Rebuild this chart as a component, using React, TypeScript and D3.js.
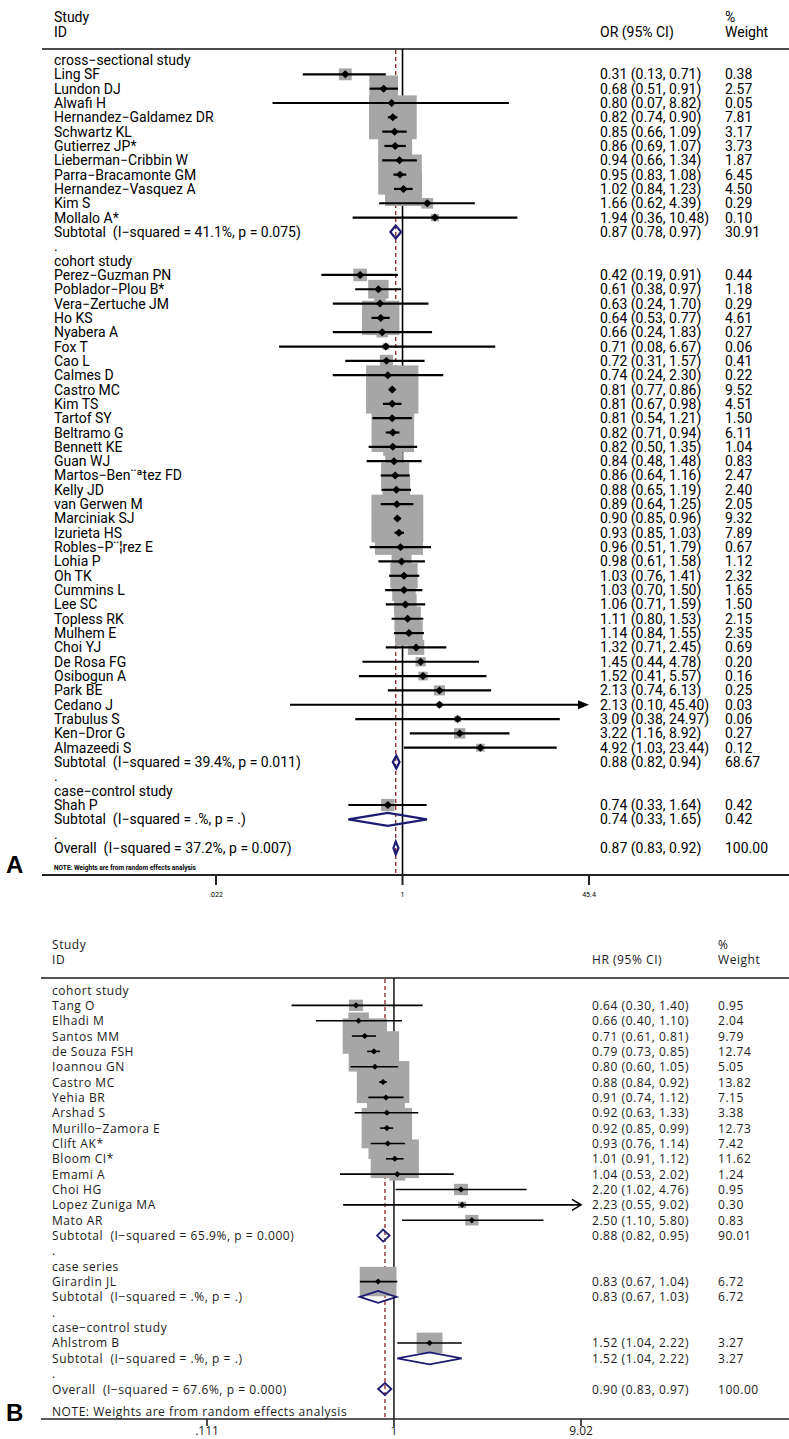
import React from "react";
import * as d3 from "d3";

// ---------------- Panel A data (OR) ----------------
const groupsA = ["cross−sectional study", "cohort study", "case−control study"];
const groupSizesA = [11, 34, 1];
const studiesA = [
  "Ling SF", "Lundon DJ", "Alwafi H", "Hernandez−Galdamez DR", "Schwartz KL", "Gutierrez JP*",
  "Lieberman−Cribbin W", "Parra−Bracamonte GM", "Hernandez−Vasquez A", "Kim S", "Mollalo A*",
  "Perez−Guzman PN", "Poblador−Plou B*", "Vera−Zertuche JM", "Ho KS", "Nyabera A", "Fox T", "Cao L",
  "Calmes D", "Castro MC", "Kim TS", "Tartof SY", "Beltramo G", "Bennett KE", "Guan WJ",
  "Martos−Ben¨ªtez FD", "Kelly JD", "van Gerwen M", "Marciniak SJ", "Izurieta HS", "Robles−P¨¦rez E",
  "Lohia P", "Oh TK", "Cummins L", "Lee SC", "Topless RK", "Mulhem E", "Choi YJ", "De Rosa FG",
  "Osibogun A", "Park BE", "Cedano J", "Trabulus S", "Ken−Dror G", "Almazeedi S",
  "Shah P",
];
const estA = [
  0.31, 0.68, 0.80, 0.82, 0.85, 0.86, 0.94, 0.95, 1.02, 1.66, 1.94,
  0.42, 0.61, 0.63, 0.64, 0.66, 0.71, 0.72, 0.74, 0.81, 0.81, 0.81, 0.82, 0.82, 0.84, 0.86, 0.88,
  0.89, 0.90, 0.93, 0.96, 0.98, 1.03, 1.03, 1.06, 1.11, 1.14, 1.32, 1.45, 1.52, 2.13, 2.13, 3.09,
  3.22, 4.92,
  0.74,
];
const lowA = [
  0.13, 0.51, 0.07, 0.74, 0.66, 0.69, 0.66, 0.83, 0.84, 0.62, 0.36,
  0.19, 0.38, 0.24, 0.53, 0.24, 0.08, 0.31, 0.24, 0.77, 0.67, 0.54, 0.71, 0.50, 0.48, 0.64, 0.65,
  0.64, 0.85, 0.85, 0.51, 0.61, 0.76, 0.70, 0.71, 0.80, 0.84, 0.71, 0.44, 0.41, 0.74, 0.10, 0.38,
  1.16, 1.03,
  0.33,
];
const highA = [
  0.71, 0.91, 8.82, 0.90, 1.09, 1.07, 1.34, 1.08, 1.23, 4.39, 10.48,
  0.91, 0.97, 1.70, 0.77, 1.83, 6.67, 1.57, 2.30, 0.86, 0.98, 1.21, 0.94, 1.35, 1.48, 1.16, 1.19,
  1.25, 0.96, 1.03, 1.79, 1.58, 1.41, 1.50, 1.59, 1.53, 1.55, 2.45, 4.78, 5.57, 6.13, 45.40, 24.97,
  8.92, 23.44,
  1.64,
];
const weightA = [
  0.38, 2.57, 0.05, 7.81, 3.17, 3.73, 1.87, 6.45, 4.50, 0.29, 0.10,
  0.44, 1.18, 0.29, 4.61, 0.27, 0.06, 0.41, 0.22, 9.52, 4.51, 1.50, 6.11, 1.04, 0.83, 2.47, 2.40,
  2.05, 9.32, 7.89, 0.67, 1.12, 2.32, 1.65, 1.50, 2.15, 2.35, 0.69, 0.20, 0.16, 0.25, 0.03, 0.06,
  0.27, 0.12,
  0.42,
];
const subLabelsA = [
  "Subtotal  (I−squared = 41.1%, p = 0.075)",
  "Subtotal  (I−squared = 39.4%, p = 0.011)",
  "Subtotal  (I−squared = .%, p = .)",
];
const subEstA = [0.87, 0.88, 0.74];
const subLowA = [0.78, 0.82, 0.33];
const subHighA = [0.97, 0.94, 1.65];
const subWeightA = [30.91, 68.67, 0.42];
const overallLabelA = "Overall  (I−squared = 37.2%, p = 0.007)";
const overallEstA = [0.87, 0.83, 0.92];
const overallWeightA = 100.0;
const ticksA = [0.022, 1, 45.4];
const tickLabelsA = [".022", "1", "45.4"];

// ---------------- Panel B data (HR) ----------------
const groupsB = ["cohort study", "case series", "case−control study"];
const groupSizesB = [15, 1, 1];
const studiesB = [
  "Tang O", "Elhadi M", "Santos MM", "de Souza FSH", "Ioannou GN", "Castro MC", "Yehia BR",
  "Arshad S", "Murillo−Zamora E", "Clift AK*", "Bloom CI*", "Emami A", "Choi HG",
  "Lopez Zuniga MA", "Mato AR",
  "Girardin JL",
  "Ahlstrom B",
];
const estB = [0.64, 0.66, 0.71, 0.79, 0.80, 0.88, 0.91, 0.92, 0.92, 0.93, 1.01, 1.04, 2.20, 2.23, 2.50, 0.83, 1.52];
const lowB = [0.30, 0.40, 0.61, 0.73, 0.60, 0.84, 0.74, 0.63, 0.85, 0.76, 0.91, 0.53, 1.02, 0.55, 1.10, 0.67, 1.04];
const highB = [1.40, 1.10, 0.81, 0.85, 1.05, 0.92, 1.12, 1.33, 0.99, 1.14, 1.12, 2.02, 4.76, 9.02, 5.80, 1.04, 2.22];
const weightB = [0.95, 2.04, 9.79, 12.74, 5.05, 13.82, 7.15, 3.38, 12.73, 7.42, 11.62, 1.24, 0.95, 0.30, 0.83, 6.72, 3.27];
const subLabelsB = [
  "Subtotal  (I−squared = 65.9%, p = 0.000)",
  "Subtotal  (I−squared = .%, p = .)",
  "Subtotal  (I−squared = .%, p = .)",
];
const subEstB = [0.88, 0.83, 1.52];
const subLowB = [0.82, 0.67, 1.04];
const subHighB = [0.95, 1.03, 2.22];
const subWeightB = [90.01, 6.72, 3.27];
const overallLabelB = "Overall  (I−squared = 67.6%, p = 0.000)";
const overallEstB = [0.90, 0.83, 0.97];
const overallWeightB = 100.0;
const ticksB = [0.111, 1, 9.02];
const tickLabelsB = [".111", "1", "9.02"];

const NOTE = "NOTE: Weights are from random effects analysis";

type Row = {
  type: "group" | "study" | "subtotal" | "dot" | "overall";
  label: string;
  est?: number;
  lo?: number;
  hi?: number;
  w?: number;
};

function buildRows(
  groups: string[], sizes: number[], names: string[], est: number[], lo: number[], hi: number[], wt: number[],
  subLabels: string[], subEst: number[], subLo: number[], subHi: number[], subWt: number[],
  overallLabel: string, overall: number[], overallW: number
): Row[] {
  const rows: Row[] = [];
  let k = 0;
  groups.forEach((g, gi) => {
    rows.push({ type: "group", label: g });
    for (let j = 0; j < sizes[gi]; j++, k++) {
      rows.push({ type: "study", label: names[k], est: est[k], lo: lo[k], hi: hi[k], w: wt[k] });
    }
    rows.push({ type: "subtotal", label: subLabels[gi], est: subEst[gi], lo: subLo[gi], hi: subHi[gi], w: subWt[gi] });
    rows.push({ type: "dot", label: "." });
  });
  rows.push({ type: "overall", label: overallLabel, est: overall[0], lo: overall[1], hi: overall[2], w: overallW });
  return rows;
}

const rowsA = buildRows(groupsA, groupSizesA, studiesA, estA, lowA, highA, weightA,
  subLabelsA, subEstA, subLowA, subHighA, subWeightA, overallLabelA, overallEstA, overallWeightA);
const rowsB = buildRows(groupsB, groupSizesB, studiesB, estB, lowB, highB, weightB,
  subLabelsB, subEstB, subLowB, subHighB, subWeightB, overallLabelB, overallEstB, overallWeightB);

const fmt = (v: number) => v.toFixed(2);

const cfgA = {
  rows: rowsA,
  x: d3.scaleLog().domain([0.022, 45.4]).range([216, 589]),
  y: d3.scaleLinear().domain([0, rowsA.length - 1]).range([60, 848]),
  head1: 17, head2: 32, headerLineY: 49, axisY: 875, lineX0: 42,
  labelX: 54, estX: 600, wtX: 725, effectLabel: "OR (95% CI)",
  font: "Roboto, sans-serif", fontSize: 14, letterSpacing: 0, textColor: "#000",
  box: d3.scaleSqrt().domain([0, 100]).range([3, 163]), boxAspect: 0.92,
  marker: 4.2, diamondH: 6.5, ciWidth: 2.2, diamondStroke: 2.2,
  overall: overallEstA[0],
  ticks: ticksA, tickLabels: tickLabelsA, tickFont: 7, tickLabelY: 895, tickLen: 10, tickFontFamily: "Roboto, sans-serif",
  noteY: 868, noteSize: 6.5, noteWeight: 700,
  letter: "A", letterY: 873,
  headerColor: "#111", headerWidth: 1.6, axisWidth: 2, refWidth: 1.6,
  arrowFilled: true,
};

const cfgB = {
  rows: rowsB,
  x: d3.scaleLog().domain([0.111, 9.02]).range([207, 581]),
  y: d3.scaleLinear().domain([0, rowsB.length - 1]).range([990, 1389]),
  head1: 944, head2: 959, headerLineY: 978, axisY: 1419, lineX0: 41,
  labelX: 52, estX: 592, wtX: 718, effectLabel: "HR (95% CI)",
  font: "'Open Sans', sans-serif", fontSize: 12, letterSpacing: 0.55, textColor: "#1a1a1a",
  box: d3.scaleSqrt().domain([0, 100]).range([0.5, 140.5]), boxAspect: 0.8,
  marker: 3.2, diamondH: 6, ciWidth: 1.6, diamondStroke: 1.8,
  overall: overallEstB[0],
  ticks: ticksB, tickLabels: tickLabelsB, tickFont: 12, tickLabelY: 1430, tickLen: 7, tickFontFamily: "'Open Sans', sans-serif",
  noteY: 1411, noteSize: 12, noteWeight: 400,
  letter: "B", letterY: 1421,
  headerColor: "#555", headerWidth: 2, axisWidth: 1.6, refWidth: 1.4,
  arrowFilled: false,
};

function Forest({ cfg }: { cfg: typeof cfgA }) {
  const { rows, x, y } = cfg;
  const [dMin, dMax] = x.domain();
  const x1 = x(1);
  const xo = x(cfg.overall);
  const textProps = {
    fontFamily: cfg.font,
    fontSize: cfg.fontSize,
    fill: cfg.textColor,
    letterSpacing: cfg.letterSpacing,
    dominantBaseline: "central" as const,
    style: { whiteSpace: "pre" as const },
  };
  const studies = rows.map((r, i) => ({ r, i })).filter((d) => d.r.type === "study");
  const diamonds = rows.map((r, i) => ({ r, i })).filter((d) => d.r.type === "subtotal" || d.r.type === "overall");

  return (
    <g>
      {/* header */}
      <text {...textProps} x={cfg.labelX} y={cfg.head1}>Study</text>
      <text {...textProps} x={cfg.labelX} y={cfg.head2}>ID</text>
      <text {...textProps} x={cfg.estX} y={cfg.head2}>{cfg.effectLabel}</text>
      <text {...textProps} x={cfg.wtX} y={cfg.head1}>%</text>
      <text {...textProps} x={cfg.wtX} y={cfg.head2}>Weight</text>
      <line x1={cfg.lineX0} x2={789} y1={cfg.headerLineY} y2={cfg.headerLineY} stroke={cfg.headerColor} strokeWidth={cfg.headerWidth} />

      {/* reference lines */}
      <line x1={x1} x2={x1} y1={cfg.headerLineY} y2={cfg.axisY} stroke="#000" strokeWidth={cfg.refWidth} />
      <line x1={xo} x2={xo} y1={cfg.headerLineY + 1} y2={cfg.axisY} stroke="#8b2323" strokeWidth={1.3} strokeDasharray="4,3" />

      {/* weight boxes */}
      {studies.map(({ r, i }) => {
        const s = cfg.box(r.w!);
        const h = s * cfg.boxAspect;
        return <rect key={"b" + i} x={x(r.est!) - s / 2} y={y(i) - h / 2} width={s} height={h} fill="#a6a6a6" />;
      })}

      {/* CIs and markers */}
      {studies.map(({ r, i }) => {
        const cy = y(i);
        const clipHi = r.hi! >= dMax - 1e-9;
        const clipLo = r.lo! <= dMin + 1e-9;
        const xl = x(Math.max(r.lo!, dMin));
        const xh = x(Math.min(r.hi!, dMax));
        const cx = x(r.est!);
        const m = cfg.marker;
        return (
          <g key={"c" + i}>
            <line x1={xl} x2={clipHi ? xh - (cfg.arrowFilled ? 6 : 1) : xh} y1={cy} y2={cy} stroke="#000" strokeWidth={cfg.ciWidth} />
            {clipHi && (cfg.arrowFilled ? (
              <path d={`M${xh},${cy} L${xh - 11},${cy - 4.5} L${xh - 11},${cy + 4.5} Z`} fill="#000" />
            ) : (
              <path d={`M${xh - 9},${cy - 5.5} L${xh},${cy} L${xh - 9},${cy + 5.5}`} fill="none" stroke="#000" strokeWidth={1.6} />
            ))}
            {clipLo && (
              <path d={`M${xl},${cy} L${xl + 11},${cy - 4.5} L${xl + 11},${cy + 4.5} Z`} fill="#000" />
            )}
            <path d={`M${cx - m},${cy} L${cx},${cy - m * 0.95} L${cx + m},${cy} L${cx},${cy + m * 0.95} Z`} fill="#000" />
          </g>
        );
      })}

      {/* pooled diamonds */}
      {diamonds.map(({ r, i }) => {
        const cy = y(i);
        const h = cfg.diamondH;
        return (
          <path
            key={"d" + i}
            d={`M${x(r.lo!)},${cy} L${x(r.est!)},${cy - h} L${x(r.hi!)},${cy} L${x(r.est!)},${cy + h} Z`}
            fill="none"
            stroke="#1c1c72"
            strokeWidth={cfg.diamondStroke}
            strokeLinejoin="miter"
          />
        );
      })}

      {/* row texts */}
      {rows.map((r, i) => (
        <g key={"t" + i}>
          <text {...textProps} x={cfg.labelX} y={y(i)}>{r.label}</text>
          {r.est !== undefined && (
            <>
              <text {...textProps} x={cfg.estX} y={y(i)}>{`${fmt(r.est)} (${fmt(r.lo!)}, ${fmt(r.hi!)})`}</text>
              <text {...textProps} x={cfg.wtX} y={y(i)}>{fmt(r.w!)}</text>
            </>
          )}
        </g>
      ))}

      {/* note, axis */}
      <text x={cfg.labelX} y={cfg.noteY} fontFamily={cfg.font} fontSize={cfg.noteSize} fontWeight={cfg.noteWeight}
        letterSpacing={cfg.noteWeight === 400 ? cfg.letterSpacing : 0} fill={cfg.textColor} dominantBaseline="central">{NOTE}</text>
      <line x1={cfg.lineX0} x2={789} y1={cfg.axisY} y2={cfg.axisY} stroke="#222" strokeWidth={cfg.axisWidth} />
      {cfg.ticks.map((t, k) => (
        <g key={"k" + k}>
          <line x1={x(t)} x2={x(t)} y1={cfg.axisY} y2={cfg.axisY + cfg.tickLen} stroke="#222" strokeWidth={cfg.axisWidth} />
          <text x={x(t)} y={cfg.tickLabelY} textAnchor="middle" fontFamily={cfg.tickFontFamily} fontSize={cfg.tickFont}
            fill={cfg.textColor} dominantBaseline="central">{cfg.tickLabels[k]}</text>
        </g>
      ))}
      <text x={6} y={cfg.letterY} fontFamily="'Liberation Sans', Arial, sans-serif" fontSize={24} fontWeight={700} fill="#000">{cfg.letter}</text>
    </g>
  );
}

export default function App() {
  return (
    <div style={{ position: "absolute", left: 0, top: 0 }}>
      <svg width={789} height={1439} viewBox="0 0 789 1439" style={{ display: "block", background: "#fff" }}>
        <Forest cfg={cfgA} />
        <Forest cfg={cfgB as any} />
      </svg>
    </div>
  );
}
